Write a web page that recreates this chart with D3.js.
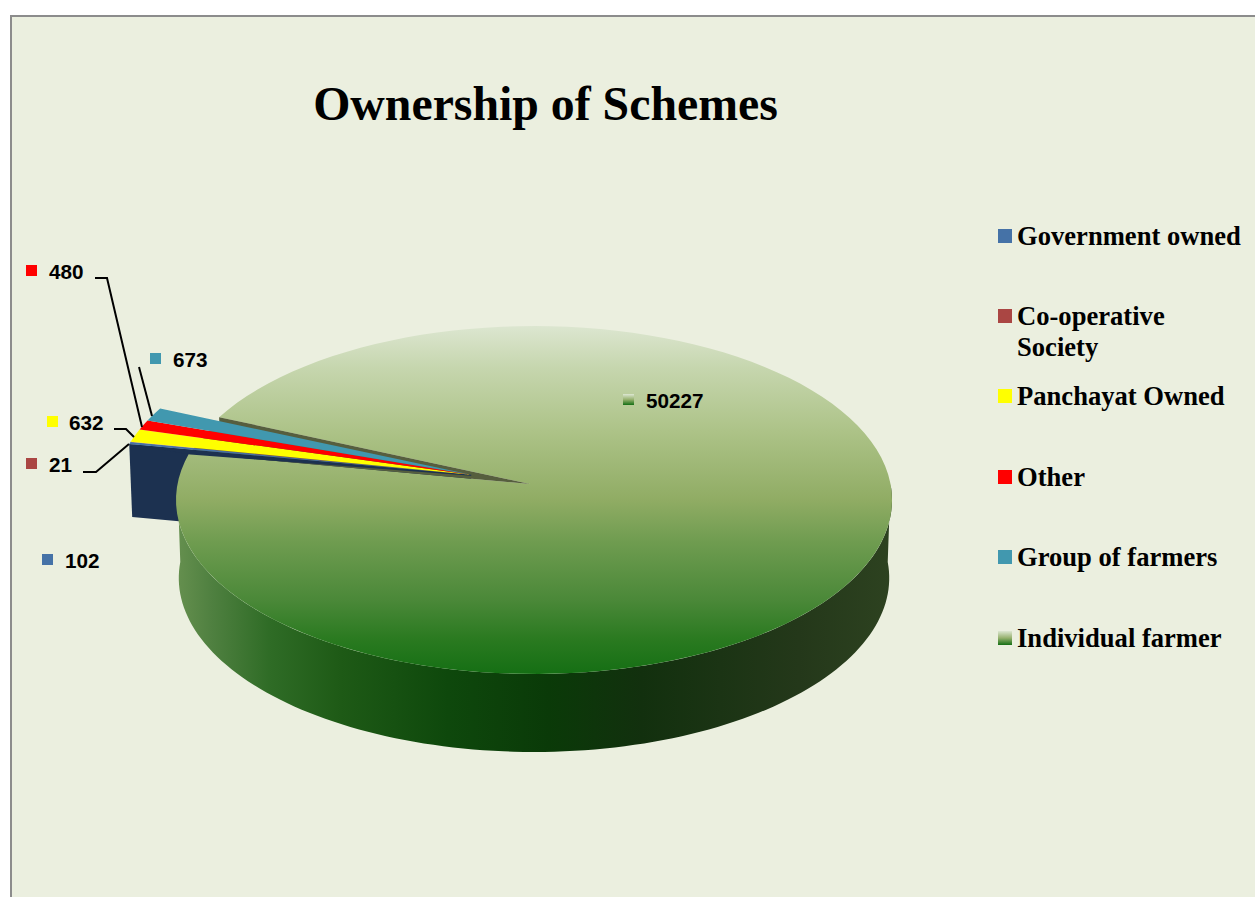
<!DOCTYPE html>
<html><head><meta charset="utf-8">
<script src="https://cdn.jsdelivr.net/npm/d3@7"></script>
<style>html,body{margin:0;padding:0;background:#fff;overflow:hidden}svg{display:block}</style>
</head><body><svg id="c" width="1255" height="897"></svg>
<script>
const categories = ["Government owned","Co-operative Society","Panchayat Owned","Other","Group of farmers","Individual farmer"];
const values = [102,21,632,480,673,50227];
const colors = ["#4572A7","#AA4643","#FFFF00","#FF0000","#4198AF","#9BB56F"];
const labelPos = [[47,560],[31,464],[52,422],[31,271],[155,359],[628,400]];
const labelGap = [18,18,17,18,18,18];
const legendY = [237,317,397,478,558,639];
const leaders = [
 [],
 [[83,472],[96,472],[129,444]],
 [[114,429],[126,429],[134,437]],
 [[95,278],[107,278],[142,427]],
 [[139,367],[152,416]],
 []
];

const svg = d3.select("#c");
const defs = svg.append("defs");
function grad(id,x1,y1,x2,y2,stops){
  const g=defs.append("linearGradient").attr("id",id).attr("gradientUnits","userSpaceOnUse")
    .attr("x1",x1).attr("y1",y1).attr("x2",x2).attr("y2",y2);
  stops.forEach(s=>g.append("stop").attr("offset",s[0]).attr("stop-color",s[1]));
}
grad("top",0,326,0,674,[[0,"#DCE6D0"],[.12,"#C6D6AE"],[.3,"#ADC388"],[.5,"#90AC64"],[.62,"#6F9C50"],[.79,"#4A8838"],[.9,"#2A7A20"],[1,"#156F14"]]);
grad("wall",176,0,892,0,[[0,"#66904F"],[.05,"#4F8040"],[.13,"#2F6C26"],[.23,"#1E5A16"],[.38,"#0E480C"],[.52,"#0A3A08"],[.65,"#12300E"],[.87,"#24381A"],[1,"#2D4220"]]);
grad("lg",0,0,0,1,[[0,"#DDE7D2"],[.5,"#96B16E"],[1,"#146F14"]]);
defs.select("#lg").attr("gradientUnits","objectBoundingBox");

// background panel
svg.append("rect").attr("x",11).attr("y",16).attr("width",1260).attr("height",900)
  .attr("fill","#EBEFDF").attr("stroke","#8C8C8C").attr("stroke-width",2);

// title
svg.append("text").attr("x",545.5).attr("y",120).attr("text-anchor","middle")
  .attr("font-family","Liberation Serif").attr("font-weight","bold").attr("font-size",47.8).text("Ownership of Schemes");

// perspective projection of the unit disc (d = drop for the lower rim)
const cx=534, cy=484, X=356.5, Y=172.5, c=.092, depth=78;
const project=(u,v,d=0)=>{const w=1-c*v;return [cx+(X*u/w)*(1-d*1e-4), cy+Y*v/w+d];};
const rim=(a)=>[Math.sin(a),-Math.cos(a)];
const deg=Math.PI/180;
const arcs=d3.pie().value(d=>d).sort(null).startAngle(280.5*deg).endAngle(640.5*deg)(values);
const main=arcs[5];
const line=d3.line();
const arcPts=(a0,a1,off=[0,0],d=0)=>d3.range(0,121).map(i=>{
  const a=a0+(a1-a0)*i/120,r=rim(a);return project(r[0]+off[0],r[1]+off[1],d);});
const tip=[-.011,0];

// outer wall of the big slice (front half)
const wa0=Math.PI/2,wa1=1.5*Math.PI;
const wtop=arcPts(wa0,wa1), wbot=arcPts(wa1,wa0,[0,0],depth);
svg.append("path").attr("d",line(wtop.concat(wbot))+"Z").attr("fill","url(#wall)");

// exploded slices: the side wall of the lowest one
const mid=(arcs[0].startAngle+arcs[4].endAngle)/2;
const e=.185, off=[rim(mid)[0]*e,rim(mid)[1]*e];
const gov=arcs[0];
const gr=rim(gov.startAngle);
svg.append("path").attr("d",line([
   project(off[0],off[1]),
   project(gr[0]+off[0],gr[1]+off[1]),
   project(gr[0]+off[0],gr[1]+off[1],depth-5),
   project(off[0],off[1],depth-5)])+"Z").attr("fill","#1C3150");

// big slice top face
svg.append("path").attr("d",line([project(tip[0],tip[1])].concat(arcPts(main.startAngle,main.endAngle)))+"Z").attr("fill","url(#top)");

// inner wall of the big slice, seen through the gap
const gapEnd=rim(main.startAngle), gapEnd2=rim(main.endAngle);
svg.append("path").attr("d",line([project(tip[0],tip[1]),project(gapEnd[0],gapEnd[1]),project(gapEnd[0],gapEnd[1],4.5),project(gapEnd2[0],gapEnd2[1])])+"Z").attr("fill","#565E3E");

// thin front strip under the lowest slice
svg.append("path").attr("d",line([
   project(off[0],off[1]),
   project(gr[0]+off[0],gr[1]+off[1]),
   project(gr[0]*.82+off[0],gr[1]*.82+off[1],5),
   project(off[0],off[1],1)])+"Z").attr("fill","#1C3150");

// exploded slice top faces
arcs.slice(0,5).forEach((s,i)=>{
  const pts=[project(off[0],off[1])].concat(arcPts(s.startAngle,s.endAngle,off));
  svg.append("path").attr("d",line(pts)+"Z").attr("fill",colors[i]);
});

// leader lines
leaders.forEach(l=>{ if(l.length) svg.append("path").attr("d",line(l)).attr("fill","none").attr("stroke","#000").attr("stroke-width",2);});

// data labels
values.forEach((v,i)=>{
  const [x,y]=labelPos[i];
  svg.append("rect").attr("x",x-5).attr("y",y-6).attr("width",11).attr("height",11)
    .attr("fill",i==5?"url(#lg)":colors[i]);
  svg.append("text").attr("x",x+labelGap[i]).attr("y",y+7.5)
    .attr("font-family","Liberation Sans").attr("font-weight","bold").attr("font-size",20.7).text(v);
});

// legend
categories.forEach((n,i)=>{
  const y=legendY[i];
  svg.append("rect").attr("x",998).attr("y",y-8).attr("width",14).attr("height",14)
    .attr("fill",i==5?"url(#lg)":colors[i]);
  const t=svg.append("text").attr("font-family","Liberation Serif").attr("font-weight","bold").attr("font-size",26.6);
  if(i==1){
    t.append("tspan").attr("x",1017).attr("y",y+8).text("Co-operative");
    t.append("tspan").attr("x",1017).attr("y",y+39).text("Society");
  } else t.attr("x",1017).attr("y",y+8).text(n);
});
</script></body></html>
